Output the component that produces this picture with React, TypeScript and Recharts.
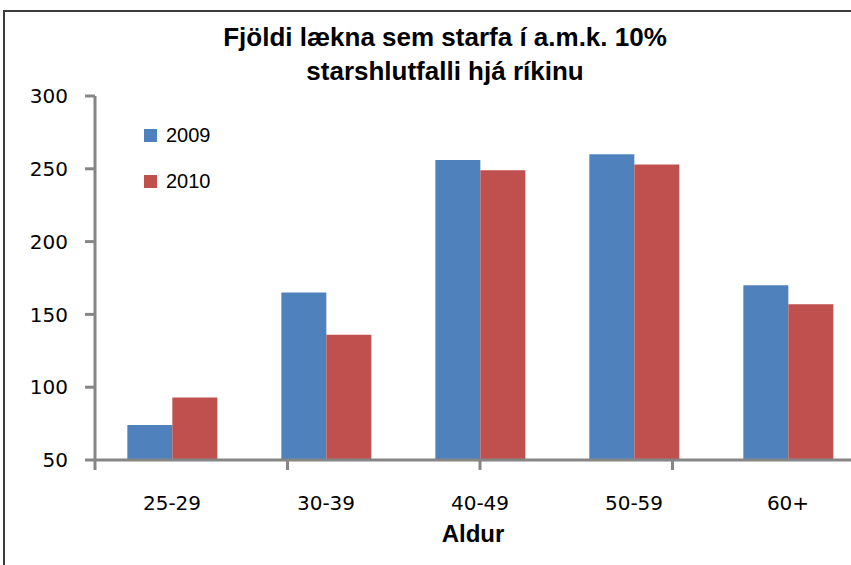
import { Bar, BarChart, Legend, XAxis, YAxis } from 'recharts';

const categories = ['25-29', '30-39', '40-49', '50-59', '60+'];
const values2009 = [74, 165, 256, 260, 170];
const values2010 = [93, 136, 249, 253, 157];
const yTicks = [50, 100, 150, 200, 250, 300];
const titleLines = ['Fjöldi lækna sem starfa í a.m.k. 10%', 'starshlutfalli hjá ríkinu'];
const xTitle = 'Aldur';

const data = categories.map((age, i) => ({ age, y2009: values2009[i], y2010: values2010[i] }));
// category boundaries 0..n, used only for the tick marks between groups
const edgeTicks = [...categories.map((_, i) => i), categories.length];

const axisStroke = '#868686';

function LegendBox({ payload }: any) {
  return (
    <div>
      {(payload || []).map((p: any) => (
        <div key={p.value} style={{ display: 'flex', alignItems: 'center', height: 46 }}>
          <span style={{ width: 13, height: 13, background: p.color, marginRight: 9 }} />
          <span style={{ fontFamily: 'Liberation Sans, Arial, sans-serif', fontSize: 20, color: '#000' }}>
            {p.value}
          </span>
        </div>
      ))}
    </div>
  );
}

// boundary axis shows tick marks only
const NoLabel = () => <g />;

export default function App() {
  return (
    <div
      style={{
        position: 'absolute',
        left: 0,
        top: 0,
        width: 851,
        height: 565,
        overflow: 'hidden',
        background: '#fff',
      }}
    >
      <div
        style={{
          position: 'absolute',
          left: 3,
          top: 10,
          width: 900,
          height: 600,
          borderLeft: '2px solid #3c3c3c',
          borderTop: '2px solid #3c3c3c',
        }}
      />
      <div
        style={{
          position: 'absolute',
          left: 0,
          top: 20,
          width: 890,
          textAlign: 'center',
          fontFamily: 'Liberation Sans, Arial, sans-serif',
          fontWeight: 'bold',
          fontSize: 26,
          lineHeight: '34px',
          color: '#000',
        }}
      >
        {titleLines.map((t) => (
          <div key={t}>{t}</div>
        ))}
      </div>
      <div style={{ position: 'absolute', left: 0, top: 0 }}>
        <BarChart
          width={900}
          height={565}
          data={data}
          margin={{ top: 96, right: 35, bottom: 0, left: 0 }}
          barCategoryGap="21%"
          barGap={0}
        >
          <XAxis
            xAxisId="boundary"
            type="number"
            domain={[0, categories.length]}
            ticks={edgeTicks}
            allowDataOverflow
            tick={NoLabel}
            tickSize={10}
            tickLine={{ stroke: axisStroke, strokeWidth: 3 }}
            axisLine={{ stroke: axisStroke, strokeWidth: 3 }}
            height={1}
          />
          <XAxis
            xAxisId="category"
            dataKey="age"
            axisLine={false}
            tickLine={false}
            tickSize={0}
            tickMargin={35}
            height={104}
            tick={{ fill: '#000', fontSize: 20, fontFamily: 'DejaVu Sans, Verdana, sans-serif' }}
            label={{
              value: xTitle,
              position: 'insideBottom',
              offset: 23,
              dx: -7,
              style: { fill: '#000', fontSize: 24, fontWeight: 'bold', fontFamily: 'Liberation Sans, Arial, sans-serif' },
            }}
          />
          <YAxis
            domain={[50, 300]}
            ticks={yTicks}
            allowDataOverflow
            width={95}
            tickSize={10}
            tickMargin={17}
            axisLine={{ stroke: axisStroke, strokeWidth: 3 }}
            tickLine={{ stroke: axisStroke, strokeWidth: 3 }}
            tick={{ fill: '#000', fontSize: 20, fontFamily: 'DejaVu Sans, Verdana, sans-serif' }}
          />
          <Legend
            layout="vertical"
            align="center"
            verticalAlign="middle"
            content={<LegendBox />}
            wrapperStyle={{ left: 144, top: 112, width: 'auto' }}
          />
          <Bar xAxisId="category" dataKey="y2009" name="2009" fill="#4F81BD" isAnimationActive={false} />
          <Bar xAxisId="category" dataKey="y2010" name="2010" fill="#C0504D" isAnimationActive={false} />
        </BarChart>
      </div>
    </div>
  );
}
